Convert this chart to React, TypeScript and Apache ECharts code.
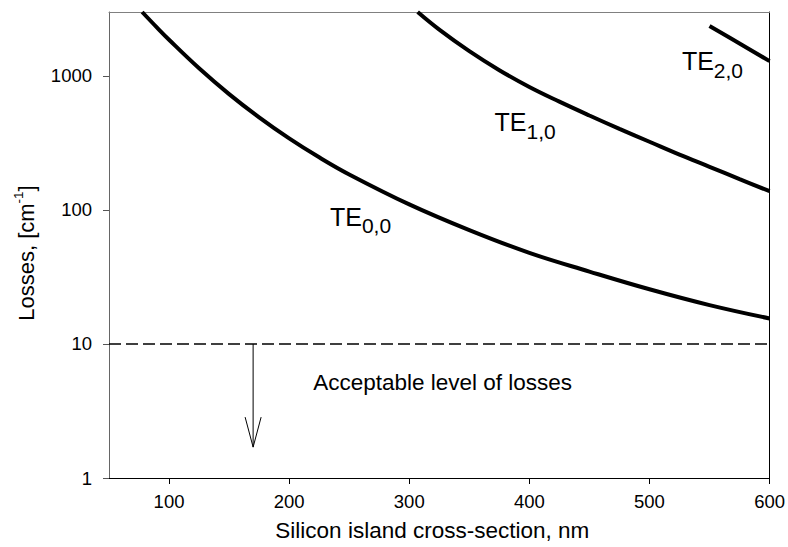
import { useEffect, useRef } from "react";
import * as echarts from "echarts";

const FONT = '"Liberation Sans", Arial, Helvetica, sans-serif';

// Axis ticks
const xTicks = [100, 200, 300, 400, 500, 600];
const yTicks = [1, 10, 100, 1000];

// Losses of the guided modes vs. silicon island cross-section (nm -> cm^-1)
const te00Width = [77.6, 90, 100, 125, 150, 175, 200, 225, 250, 300, 350, 400, 450, 500, 550, 600];
const te00Loss = [3000, 2294, 1862, 1141, 732, 491, 342, 247, 184, 110, 70.7, 47.8, 34.7, 25.6, 19.5, 15.5];

const te10Width = [307, 325, 350, 375, 400, 425, 450, 475, 500, 525, 550, 575, 600];
const te10Loss = [3000, 2217, 1531, 1104, 827, 643, 507, 403, 323, 259, 210, 170, 138];

const te20Width = [550, 575, 600];
const te20Loss = [2360, 1745, 1290];

// Mode names: subscript, anchor width, anchor loss
const modeSubs = ["0,0", "1,0", "2,0"];
const modeLabelX = [234, 371, 527];
const modeLabelY = [89, 453, 1288];

// Acceptable-loss threshold and its annotation
const lossLimit = 10;
const arrowX = 170;
const arrowEnd = 1.7;
const limitText = "Acceptable level of losses";
const limitTextX = 220;
const limitTextY = 5.2;

const zip = (xs: number[], ys: number[]) => xs.map((x, i) => [x, ys[i]]);

const curve = (name: string, xs: number[], ys: number[]) => ({
  name,
  type: "line",
  data: zip(xs, ys),
  smooth: 0.4,
  symbol: "none",
  clip: true,
  lineStyle: { color: "#000", width: 4, cap: "butt" },
  z: 3,
});

export default function App() {
  const ref = useRef<HTMLDivElement>(null);

  useEffect(() => {
    if (!ref.current) return;
    const chart = echarts.init(ref.current, null, { renderer: "svg" });

    const option: any = {
      animation: false,
      backgroundColor: "#fff",
      grid: { left: 109, right: 15, top: 12, bottom: 68 },
      xAxis: [
        {
          type: "value",
          min: 50,
          max: 600,
          name: "Silicon island cross-section, nm",
          nameLocation: "middle",
          nameGap: 41,
          nameMoveOverlap: false,
          nameTextStyle: {
            fontFamily: FONT,
            fontSize: 22.5,
            color: "#000",
            padding: [0, 14, 0, 0],
          },
          axisLine: { show: true, onZero: false, lineStyle: { color: "#000", width: 1 } },
          axisTick: {
            show: true,
            inside: false,
            length: 6,
            customValues: xTicks,
            lineStyle: { color: "#000" },
          },
          axisLabel: {
            customValues: xTicks,
            margin: 14,
            fontFamily: FONT,
            fontSize: 18.5,
            color: "#000",
          },
          splitLine: { show: false },
        },
        {
          type: "value",
          position: "top",
          min: 50,
          max: 600,
          axisLine: { show: true, onZero: false, lineStyle: { color: "#808080", width: 1 } },
          axisTick: { show: false },
          axisLabel: { show: false },
          splitLine: { show: false },
        },
      ],
      yAxis: [
        {
          type: "log",
          logBase: 10,
          min: 1,
          max: 3000,
          name: "Losses, [cm{sup|-1}]",
          nameLocation: "middle",
          nameRotate: 90,
          nameGap: 68,
          nameMoveOverlap: false,
          nameTextStyle: {
            fontFamily: FONT,
            fontSize: 22,
            color: "#000",
            padding: [0, 16, 0, 0],
            rich: {
              sup: {
                fontFamily: FONT,
                fontSize: 13.5,
                color: "#000",
                verticalAlign: "middle",
                padding: [0, 0, 16, 0],
              },
            },
          },
          axisLine: { show: true, onZero: false, lineStyle: { color: "#666", width: 1 } },
          axisTick: {
            show: true,
            inside: false,
            length: 6,
            customValues: yTicks,
            lineStyle: { color: "#555" },
          },
          axisLabel: {
            customValues: yTicks,
            margin: 17,
            fontFamily: FONT,
            fontSize: 18.5,
            color: "#000",
            formatter: (v: number) => String(Math.round(v)),
          },
          splitLine: { show: false },
          minorTick: { show: false },
        },
        {
          type: "value",
          position: "right",
          min: 0,
          max: 1,
          axisLine: { show: true, onZero: false, lineStyle: { color: "#000", width: 1 } },
          axisTick: { show: false },
          axisLabel: { show: false },
          splitLine: { show: false },
        },
      ],
      series: [
        curve("TE0,0", te00Width, te00Loss),
        curve("TE1,0", te10Width, te10Loss),
        curve("TE2,0", te20Width, te20Loss),
        {
          name: "limit",
          type: "line",
          data: [
            [50, lossLimit],
            [600, lossLimit],
          ],
          symbol: "none",
          lineStyle: { color: "#000", width: 1.3, type: [12, 5] },
          z: 2,
        },
        {
          name: "arrow",
          type: "custom",
          data: [[arrowX, lossLimit, arrowEnd]],
          renderItem: (_params: any, api: any) => {
            const start = api.coord([api.value(0), api.value(1)]);
            const tip = api.coord([api.value(0), api.value(2)]);
            return {
              type: "group",
              children: [
                {
                  type: "line",
                  shape: { x1: start[0], y1: start[1], x2: tip[0], y2: tip[1] },
                  style: { stroke: "#000", lineWidth: 1 },
                },
                {
                  type: "polyline",
                  shape: {
                    points: [
                      [tip[0] - 8, tip[1] - 30],
                      [tip[0], tip[1]],
                      [tip[0] + 8, tip[1] - 30],
                    ],
                  },
                  style: { stroke: "#000", fill: null, lineWidth: 1 },
                },
              ],
            };
          },
          z: 4,
        },
        {
          name: "limit text",
          type: "custom",
          data: [[limitTextX, limitTextY]],
          renderItem: (_params: any, api: any) => {
            const p = api.coord([api.value(0), api.value(1)]);
            return {
              type: "text",
              x: p[0],
              y: p[1],
              style: {
                text: limitText,
                fill: "#000",
                fontSize: 22.5,
                fontFamily: FONT,
                align: "left",
                verticalAlign: "middle",
              },
            };
          },
          z: 4,
        },
        {
          name: "mode labels",
          type: "custom",
          data: zip(modeLabelX, modeLabelY),
          renderItem: (params: any, api: any) => {
            const p = api.coord([api.value(0), api.value(1)]);
            return {
              type: "text",
              x: p[0],
              y: p[1],
              style: {
                text: `{t|TE}{s|${modeSubs[params.dataIndex]}}`,
                align: "left",
                verticalAlign: "middle",
                rich: {
                  t: {
                    fontSize: 25,
                    lineHeight: 25,
                    fontFamily: FONT,
                    fill: "#000",
                    verticalAlign: "middle",
                  },
                  s: {
                    fontSize: 21,
                    lineHeight: 21,
                    fontFamily: FONT,
                    fill: "#000",
                    verticalAlign: "middle",
                    padding: [18, 0, 0, 0],
                  },
                },
              },
            };
          },
          z: 4,
        },
      ],
    };

    chart.setOption(option);
    return () => chart.dispose();
  }, []);

  return (
    <div
      ref={ref}
      style={{ position: "fixed", left: 0, top: 0, width: 788, height: 547, background: "#fff" }}
    />
  );
}
